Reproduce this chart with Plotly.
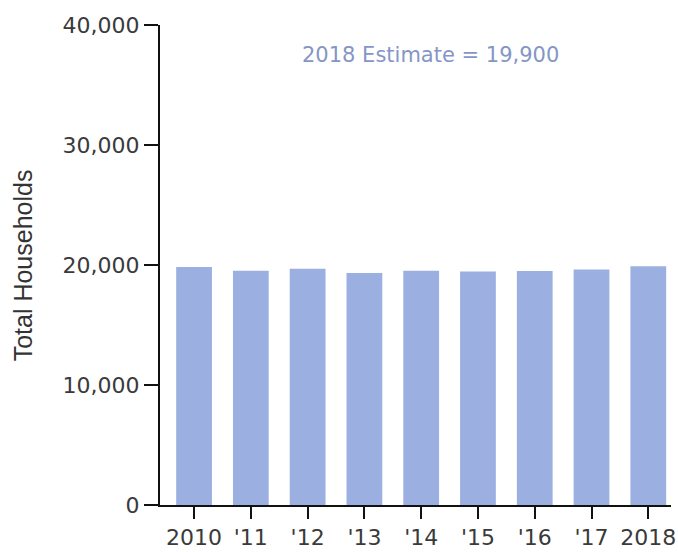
import plotly.graph_objects as go

# Total households by year
years = ["2010", "'11", "'12", "'13", "'14", "'15", "'16", "'17", "2018"]
households = [19830, 19530, 19680, 19340, 19520, 19450, 19490, 19630, 19900]
estimate_label = "2018 Estimate = 19,900"
y_ticks = [0, 10000, 20000, 30000, 40000]
y_tick_text = ["0", "10,000", "20,000", "30,000", "40,000"]

W, H = 678, 552
left, right, top, bottom = 160, 2, 25, 42

fig = go.Figure(
    go.Bar(
        x=list(range(len(years))),
        y=households,
        marker=dict(color="#9bafe0", line=dict(width=0)),
        width=0.63,
    )
)

tick_font = dict(family="DejaVu Sans, sans-serif", size=22, color="#3a3a3a")

fig.update_layout(
    width=W,
    height=H,
    margin=dict(l=left, r=right, t=top, b=bottom),
    paper_bgcolor="white",
    plot_bgcolor="white",
    showlegend=False,
    font=dict(family="DejaVu Sans, sans-serif", color="#222222"),
)

fig.update_xaxes(
    range=[-0.6, 8.4],
    tickmode="array",
    tickvals=list(range(len(years))),
    ticktext=years,
    ticks="outside",
    ticklen=12,
    tickwidth=2,
    tickcolor="#111111",
    showline=True,
    linecolor="#111111",
    linewidth=2,
    showgrid=False,
    zeroline=False,
    tickfont=tick_font,
    ticklabeloverflow="allow",
)

fig.update_yaxes(
    range=[0, 40000],
    tickmode="array",
    tickvals=y_ticks,
    ticktext=y_tick_text,
    ticks="outside",
    ticklen=14,
    tickwidth=2,
    tickcolor="#111111",
    showline=True,
    linecolor="#111111",
    linewidth=2,
    showgrid=False,
    zeroline=False,
    tickfont=tick_font,
)

plot_w = W - left - right

fig.add_annotation(
    text="Total Households",
    textangle=-90,
    xref="paper",
    yref="paper",
    x=(22 - left) / plot_w,
    y=0.5,
    xanchor="center",
    yanchor="middle",
    showarrow=False,
    font=dict(family="Liberation Sans, Arial, sans-serif", size=25, color="#333333"),
)

fig.add_annotation(
    text=estimate_label,
    xref="paper",
    yref="paper",
    x=(433 - left) / plot_w,
    y=1 - (55 - top) / (H - top - bottom),
    xanchor="center",
    yanchor="middle",
    showarrow=False,
    font=dict(family="DejaVu Sans, sans-serif", size=21, color="#8596c6"),
)

fig.write_html("out.html")
